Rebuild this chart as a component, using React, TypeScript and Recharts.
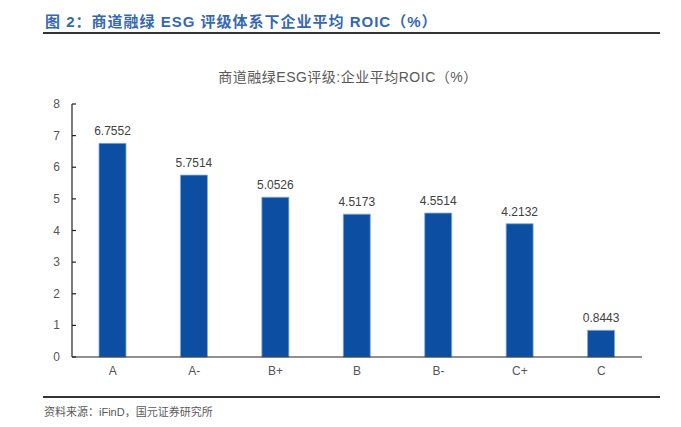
import { BarChart, Bar, XAxis, YAxis, LabelList } from 'recharts';

const GRADES = ['A', 'A-', 'B+', 'B', 'B-', 'C+', 'C'];
const ROIC = [6.7552, 5.7514, 5.0526, 4.5173, 4.5514, 4.2132, 0.8443];
const Y_TICKS = [0, 1, 2, 3, 4, 5, 6, 7, 8];
const BOUNDARY_TICKS = [1, 2, 3, 4, 5, 6, 7];

const FONT = '"Liberation Sans", Arial, "Noto Sans CJK SC", sans-serif';
const AXIS = '#222';

const data = GRADES.map((grade, i) => ({ grade, value: ROIC[i] }));

// y ticks point into the plot, label sits to the left
function YTick(props: any) {
  const { x, y, payload } = props;
  return (
    <g>
      <line x1={x + 12} x2={x + 16} y1={y} y2={y} stroke={AXIS} strokeWidth={1.2} />
      <text x={x} y={y} dy={4} textAnchor="end" fontSize={12} fill="#555" fontFamily={FONT}>
        {payload.value}
      </text>
    </g>
  );
}

// category boundary marks, pointing up from the x axis
function BoundaryTick(props: any) {
  const { x, y } = props;
  return <line x1={x} x2={x} y1={y} y2={y - 4} stroke={AXIS} strokeWidth={1.2} />;
}

export default function App() {
  return (
    <div style={{ position: 'absolute', left: 0, top: 0, width: 681, height: 427, background: '#fff', fontFamily: FONT }}>
      <div
        style={{
          position: 'absolute',
          left: 45,
          top: 10,
          fontSize: 15,
          fontWeight: 'bold',
          color: '#3568b0',
          whiteSpace: 'nowrap',
          letterSpacing: 1,
          fontFamily: '"Liberation Sans", "Noto Sans CJK SC", sans-serif',
        }}
      >
        图 2：商道融绿 ESG 评级体系下企业平均 ROIC（%）
      </div>
      <div style={{ position: 'absolute', left: 43, top: 32, width: 617, height: 2, background: '#333' }} />

      <div
        style={{
          position: 'absolute',
          left: 148,
          width: 400,
          top: 66,
          textAlign: 'center',
          fontSize: 14,
          color: '#595959',
          whiteSpace: 'nowrap',
          letterSpacing: 0.5,
        }}
      >
        商道融绿ESG评级:企业平均ROIC（%）
      </div>

      <div style={{ position: 'absolute', left: 0, top: 0 }}>
        <BarChart width={681} height={427} data={data} margin={{ top: 104, right: 39, left: 0, bottom: 40 }}>
          <XAxis
            dataKey="grade"
            height={30}
            tickLine={false}
            tickSize={0}
            tickMargin={9}
            axisLine={{ stroke: AXIS, strokeWidth: 1.2 }}
            tick={{ fontSize: 12, fill: '#555', fontFamily: FONT }}
          />
          <XAxis
            xAxisId="bounds"
            type="number"
            domain={[0, 7]}
            ticks={BOUNDARY_TICKS}
            height={0}
            axisLine={false}
            tickLine={false}
            tickSize={0}
            tickMargin={0}
            tick={<BoundaryTick />}
          />
          <YAxis
            width={72}
            domain={[0, 8]}
            ticks={Y_TICKS}
            interval={0}
            tickLine={false}
            tickSize={0}
            tickMargin={12}
            axisLine={{ stroke: AXIS, strokeWidth: 1.2 }}
            tick={<YTick />}
          />
          <Bar dataKey="value" barSize={27} fill="#0b4ea2" stroke="#86a9d8" strokeWidth={0.8} isAnimationActive={false}>
            <LabelList
              dataKey="value"
              position="top"
              offset={8}
              fontSize={12}
              fill="#404040"
              fontFamily={FONT}
            />
          </Bar>
        </BarChart>
      </div>

      <div style={{ position: 'absolute', left: 43, top: 396, width: 617, height: 1.5, background: '#333' }} />
      <div
        style={{
          position: 'absolute',
          left: 44,
          top: 403,
          fontSize: 11,
          color: '#595959',
          whiteSpace: 'nowrap',
        }}
      >
        资料来源：iFinD，国元证券研究所
      </div>
    </div>
  );
}
